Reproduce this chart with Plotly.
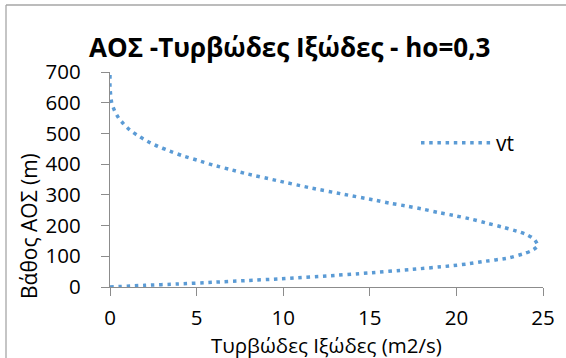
import plotly.graph_objects as go

# Turbulent viscosity profile through the atmospheric boundary layer
depth_m = [0, 5.5, 9.8, 15.3, 20.8, 26, 29.3, 35.8, 45.6, 56.6, 68.4, 74.9, 82.6, 94.5,
           108.6, 117.3, 133.6, 155.3, 169.4, 178, 194.4, 207.4, 220.4, 231.2, 242.1,
           253, 262.8, 272.5, 283.3, 302.8, 323.6, 346.4, 370, 383, 397, 412.6, 428,
           447, 457, 469, 481, 495, 511, 530, 550, 573, 599, 650, 690]
vt = [0, 2.0, 3.9, 5.9, 7.8, 9.7, 10.6, 12.5, 14.9, 17.3, 19.6, 20.6, 21.5, 23.0,
      23.9, 24.3, 24.7, 24.5, 24.1, 23.7, 22.7, 21.8, 20.9, 20.0, 19.0,
      18.1, 17.2, 16.2, 15.25, 13.4, 11.5, 9.65, 7.8, 6.9, 5.95, 5.05, 4.15,
      3.25, 2.8, 2.35, 1.95, 1.55, 1.15, 0.8, 0.5, 0.27, 0.1, 0.0, 0.0]

x_ticks = [0, 5, 10, 15, 20, 25]
y_ticks = [0, 100, 200, 300, 400, 500, 600, 700]

title_text = "ΑΟΣ -Τυρβώδες Ιξώδες - ho=0,3"
x_title = "Τυρβώδες Ιξώδες (m2/s)"
y_title = "Βάθος ΑΟΣ (m)"

W, H = 566, 358
L, R, T, B = 110, 23, 72, 71
FONT = "Open Sans"
BLUE = "#5B9BD5"
AXIS = "#8C8C8C"


def pxx(p):
    return (p - L) / (W - L - R)


def pxy(p):
    return (H - B - p) / (H - T - B)


fig = go.Figure()
fig.add_trace(go.Scatter(
    x=vt, y=depth_m, mode="lines", name="vt",
    line=dict(color=BLUE, width=3.5, dash="3.5px,4.7px", shape="spline", smoothing=0.6),
))

axis_common = dict(
    showgrid=False, zeroline=False, showline=True, linecolor=AXIS, linewidth=1.3,
    ticks="outside", ticklen=8, tickcolor=AXIS, tickwidth=1.3,
    tickfont=dict(family=FONT, size=20.5, color="#000000"),
)
fig.update_xaxes(range=[0, 25], tickvals=x_ticks, ticklabelstandoff=4, **axis_common)
fig.update_yaxes(range=[0, 700], tickvals=y_ticks, ticklabelstandoff=16, **axis_common)

fig.add_annotation(text=f"<b>{title_text}</b>", x=pxx(289), y=pxy(47), xref="paper", yref="paper",
                   xanchor="center", yanchor="middle",
                   showarrow=False, font=dict(family=FONT, size=26, color="#000000"))
fig.add_annotation(text=x_title, x=pxx(326), y=pxy(345), xref="paper", yref="paper",
                   xanchor="center", yanchor="middle",
                   showarrow=False, font=dict(family=FONT, size=20.5, color="#000000"))
fig.add_annotation(text=y_title, x=pxx(29), y=pxy(226), xref="paper", yref="paper",
                   xanchor="center", yanchor="middle",
                   showarrow=False, textangle=-90, font=dict(family=FONT, size=21, color="#000000"))

# chart frame (left and top edges visible)
fig.add_shape(type="line", x0=pxx(6), x1=pxx(570), y0=pxy(5), y1=pxy(5), xref="paper", yref="paper",
              line=dict(color="#A6A6A6", width=1.3))
fig.add_shape(type="line", x0=pxx(6), x1=pxx(6), y0=pxy(5), y1=pxy(365), xref="paper", yref="paper",
              line=dict(color="#A6A6A6", width=1.3))

fig.update_layout(
    width=W, height=H, margin=dict(l=L, r=R, t=T, b=B),
    paper_bgcolor="white", plot_bgcolor="white",
    showlegend=True,
    legend=dict(x=pxx(416), y=pxy(143), xanchor="left", yanchor="middle",
                bgcolor="rgba(0,0,0,0)", itemwidth=70,
                font=dict(family=FONT, size=21, color="#000000")),
)

fig.write_html("out.html")
